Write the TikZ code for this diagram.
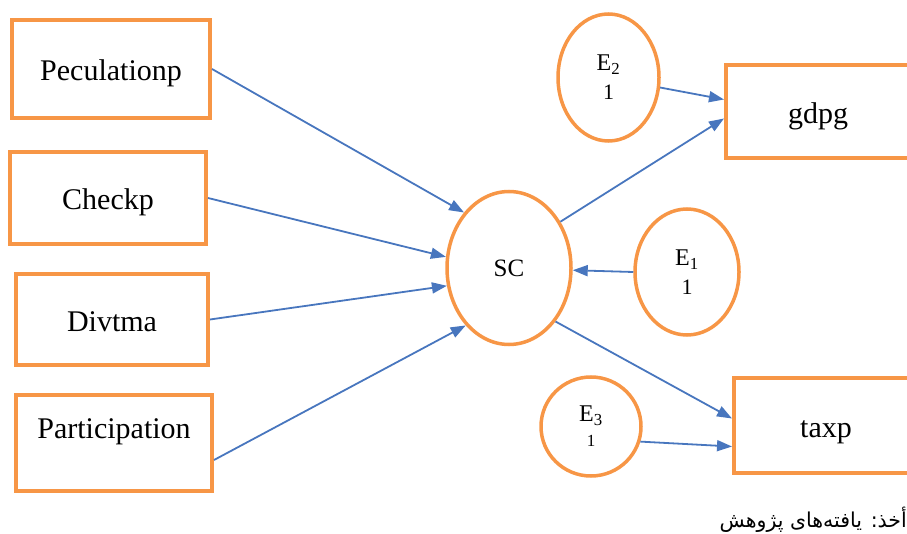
\documentclass[tikz,border=0pt]{standalone}
\usepackage{fontspec}
\setmainfont{Liberation Serif}
\newfontfamily\persfont[Script=Arabic]{DejaVu Sans}
\TeXXeTstate=1
\usetikzlibrary{shapes.geometric,arrows.meta,positioning}
\definecolor{varorange}{RGB}{247,150,70}
\definecolor{arrblue}{RGB}{72,118,190}
\tikzstyle{var}=[draw=varorange,line width=4pt,rectangle,text height=30pt,
                text depth=6.5pt,font=\fontsize{30}{34}\selectfont,text=black]
\tikzstyle{err}=[draw=varorange,line width=3.5pt,ellipse,inner sep=0pt,
                align=center,font=\fontsize{24}{29}\selectfont]
\tikzstyle{arr}=[draw=arrblue,line width=1.8pt,
                -{Triangle[length=15pt,width=11pt]}]

\begin{document}
\begin{tikzpicture}[x=1pt,y=-1pt]
\useasboundingbox (0,0) rectangle (907,534);
% variables on the left
\node (pec) [var,minimum width=198pt,minimum height=98pt] at (111,69) {Peculationp};
\node (chk) [var,minimum width=196pt,minimum height=92pt] at (108,198) {Checkp};
\node (div) [var,minimum width=192pt,minimum height=91pt] at (112,319.5) {Divtma};
\node (par) [var,minimum width=196pt,minimum height=96pt,text depth=40pt] at (114,443) {Participation};
% right side
\node (gdp) [var,minimum width=184pt,minimum height=93pt] at (818,111.5) {gdpg};
\node (tax) [var,minimum width=184pt,minimum height=95pt] at (826,425.5) {taxp};
\node (sc) [err,minimum width=124pt,minimum height=153pt,font=\fontsize{25}{29}\selectfont] at (509,268) {SC};
\node (e2) [err,minimum width=101pt,minimum height=127pt] at (608.5,77.5) {E\textsubscript{2}\\{\fontsize{22}{26}\selectfont 1}};
\node (e1) [err,minimum width=104pt,minimum height=126pt] at (687,272) {E\textsubscript{1}\\{\fontsize{22}{26}\selectfont 1}};
\node (e3) [err,minimum width=100pt,minimum height=99pt] at (591,426.5) {E\textsubscript{3}\\[-4pt]{\fontsize{17}{20}\selectfont 1}};
% paths
\draw[arr] (pec.east) -- (sc.129);
\draw[arr] (chk.east) -- (sc.170);
\draw[arr] (div.east) -- (sc.196);
\draw[arr] ([yshift=-17pt]par.east) -- (sc.233);
\draw[arr] (sc.42) -- ([yshift=-7pt]gdp.west);
\draw[arr] (e2.349) -- ([yshift=12pt]gdp.west);
\draw[arr] (e1.west) -- (sc.-2);
\draw[arr] (sc.311) -- ([yshift=7pt]tax.west);
\draw[arr] (e3.343) -- ([yshift=-21pt]tax.west);
\node (src) [anchor=base east,inner sep=0pt] at (907,527)
  {\persfont\fontsize{20.5}{24}\selectfont\beginR أخذ: یافته‌های پژوهش\endR};
\end{tikzpicture}
\end{document}
